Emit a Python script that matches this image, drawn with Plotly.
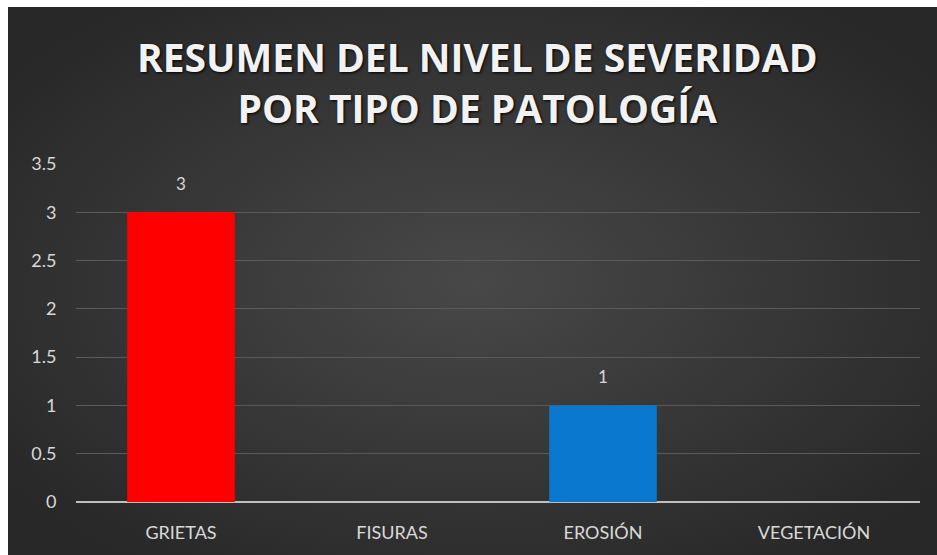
import plotly.graph_objects as go
import urllib.parse

# Severity summary per pathology type
categories = ["GRIETAS", "FISURAS", "EROSIÓN", "VEGETACIÓN"]
severity = [3, None, 1, None]
bar_colors = ["#FF0000", "#0B78D0", "#0B78D0", "#0B78D0"]
y_ticks = [0, 0.5, 1, 1.5, 2, 2.5, 3, 3.5]
y_tick_labels = ["0", "0.5", "1", "1.5", "2", "2.5", "3", "3.5"]

W, H = 937, 555
EDGE_L, EDGE_T = 8, 7  # white sheet edge on the left and top

# Dark radial-gradient backdrop (lighter in the middle, darker towards the edges)
svg = (
    '<svg xmlns="http://www.w3.org/2000/svg" width="929" height="548" viewBox="0 0 929 548" '
    'preserveAspectRatio="none">'
    '<defs><radialGradient id="g" cx="50%" cy="50%" r="62%">'
    '<stop offset="0%" stop-color="#484848"/>'
    '<stop offset="100%" stop-color="#282828"/>'
    '</radialGradient></defs>'
    '<rect width="929" height="548" fill="url(#g)"/></svg>'
)
bg_src = "data:image/svg+xml;charset=utf-8," + urllib.parse.quote(svg)

fig = go.Figure(
    go.Bar(
        x=categories,
        y=severity,
        marker=dict(color=bar_colors, line=dict(width=0)),
        hoverinfo="x+y",
    )
)

# Value labels above each bar
annotations = [
    dict(
        x=c, y=v, xref="x", yref="y",
        text=str(v), showarrow=False,
        xanchor="center", yanchor="bottom", yshift=16,
        font=dict(family="Lato, sans-serif", size=17, color="#d9d9d9"),
    )
    for c, v in zip(categories, severity) if v is not None
]

annotations.append(
    dict(
        text="RESUMEN DEL NIVEL DE SEVERIDAD<br>POR TIPO DE PATOLOGÍA",
        xref="paper", yref="paper",
        x=477 / W, y=1 - 82 / H,
        xanchor="center", yanchor="middle",
        showarrow=False,
        align="center",
        font=dict(family="Open Sans, sans-serif", size=39, color="#f2f2f2",
                  weight="bold", shadow="1px 1px 3px #000"),
    )
)

fig.update_layout(
    width=W,
    height=H,
    autosize=False,
    margin=dict(l=0, r=0, t=0, b=0, pad=0),
    paper_bgcolor="#2b2b2b",
    plot_bgcolor="rgba(0,0,0,0)",
    showlegend=False,
    bargap=0.49,
    images=[
        dict(
            source=bg_src,
            xref="paper", yref="paper",
            x=EDGE_L / W, y=1 - EDGE_T / H,
            sizex=1 - EDGE_L / W, sizey=1 - EDGE_T / H,
            xanchor="left", yanchor="top",
            sizing="stretch",
            layer="below",
        )
    ],
    shapes=[
        dict(type="rect", xref="paper", yref="paper", x0=0, x1=EDGE_L / W, y0=0, y1=1,
             fillcolor="white", line=dict(width=0), layer="above"),
        dict(type="rect", xref="paper", yref="paper", x0=0, x1=1, y0=1 - EDGE_T / H, y1=1,
             fillcolor="white", line=dict(width=0), layer="above"),
    ],
    xaxis=dict(
        domain=[75.5 / W, 919.5 / W],
        range=[-0.5, 3.5],
        showgrid=False,
        zeroline=False,
        showline=False,
        ticks="",
        automargin=False,
        tickfont=dict(family="Lato, sans-serif", size=18, color="#d9d9d9"),
        ticklabelstandoff=18,
        fixedrange=True,
    ),
    yaxis=dict(
        domain=[(H - 502) / H, (H - 164) / H],
        range=[0, 3.5],
        tickvals=y_ticks,
        ticktext=y_tick_labels,
        showgrid=True,
        gridcolor="#5a5a5a",
        gridwidth=1,
        zeroline=True,
        zerolinecolor="#bfbfbf",
        zerolinewidth=2,
        showline=False,
        ticks="",
        automargin=False,
        ticklabelstandoff=18,
        tickfont=dict(family="Lato, sans-serif", size=18, color="#d9d9d9"),
        fixedrange=True,
    ),
    annotations=annotations,
)

fig.write_html(
    "out.html",
    config={"responsive": False, "displayModeBar": False},
    post_script="document.body.style.margin='0';document.body.style.background='#262626';",
)
